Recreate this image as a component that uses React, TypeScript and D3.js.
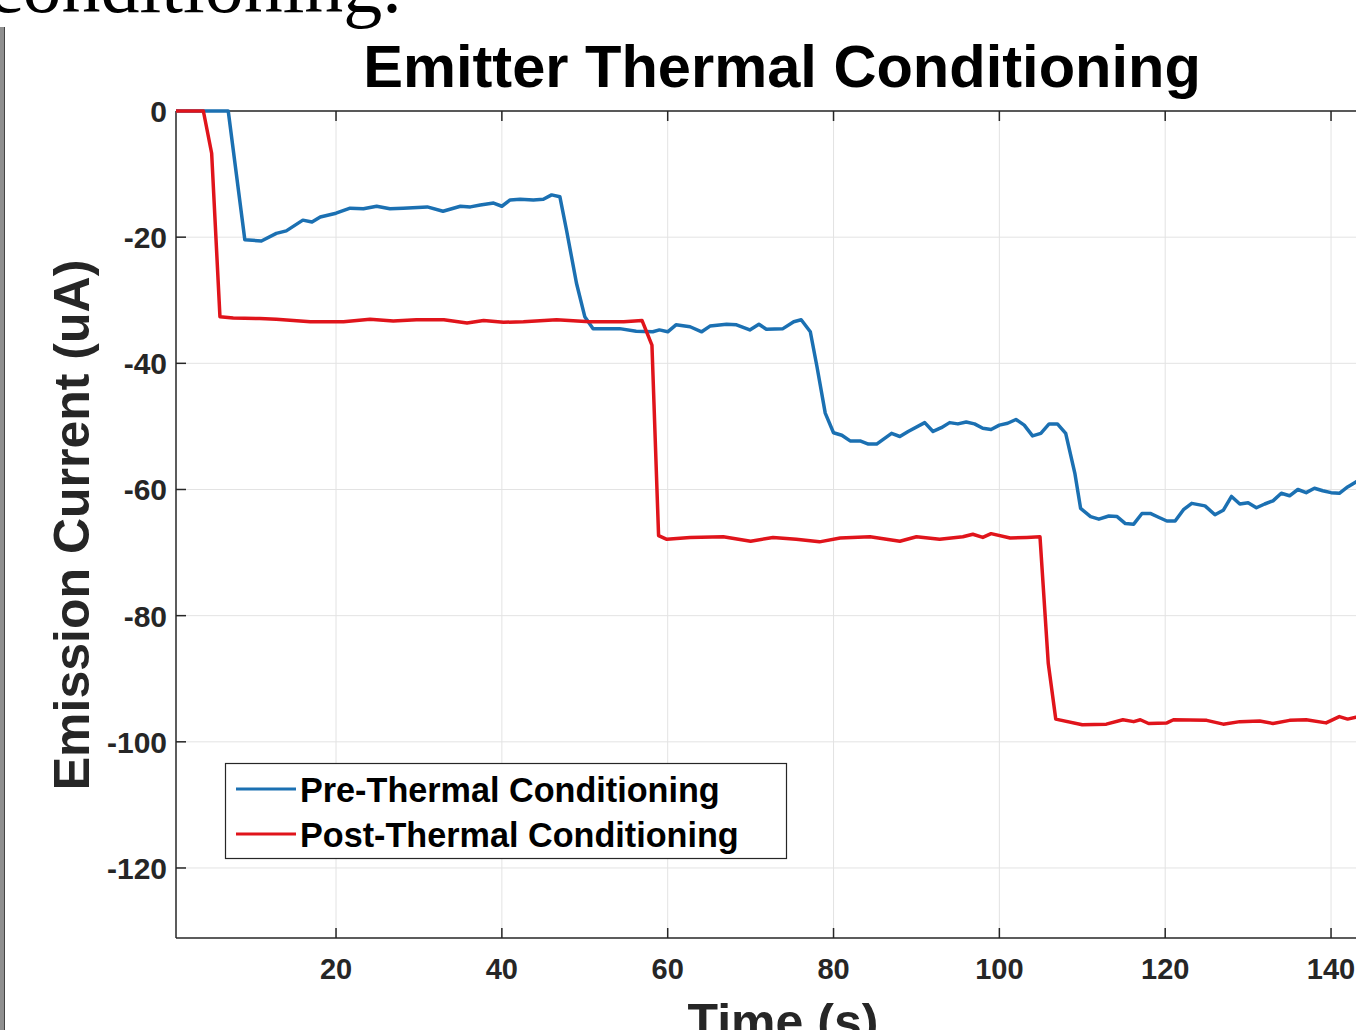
import * as d3 from "d3";

// Emitter thermal conditioning: [time (s), current (uA)]
const preThermal: [number, number][] = [
  [0.7, 0], [7, 0], [9, -20.4], [11, -20.6], [12.8, -19.4], [14, -19], [16, -17.3], [17.1, -17.6],
  [18.1, -16.8], [20, -16.2], [21.7, -15.4], [23.3, -15.5], [24.9, -15.1], [26.5, -15.5], [28.1, -15.4],
  [31, -15.2], [32.9, -15.9], [35, -15.1], [36.2, -15.2], [37.4, -14.9], [39, -14.6], [40, -15.1],
  [41, -14.1], [42.2, -14], [43.8, -14.1], [45, -14], [46, -13.3], [47, -13.6], [47.8, -18.9],
  [49, -27.3], [50, -32.6], [51, -34.5], [54.2, -34.5], [56.2, -34.9], [58.2, -35], [59, -34.7],
  [60, -35], [61, -33.9], [62.7, -34.2], [64.1, -35], [65.1, -34.1], [67.1, -33.8], [68.3, -33.9],
  [69.9, -34.7], [71, -33.8], [71.9, -34.6], [73.9, -34.5], [75.2, -33.4], [76.1, -33.1], [77.2, -35],
  [78, -40.5], [79, -47.9], [80, -51], [81, -51.4], [82, -52.3], [83.2, -52.3], [84.2, -52.8],
  [85.2, -52.8], [87, -51.1], [88, -51.6], [89, -50.8], [91, -49.4], [92, -50.8], [93, -50.2],
  [94, -49.4], [95, -49.6], [96, -49.3], [97, -49.6], [98, -50.3], [99, -50.5], [100, -49.8],
  [101, -49.5], [102, -48.9], [103, -49.8], [104, -51.5], [105, -51.1], [106, -49.6], [107, -49.6],
  [108, -51.1], [109.1, -57.4], [109.8, -63], [111, -64.3], [112, -64.7], [113.2, -64.2], [114.2, -64.3],
  [115.2, -65.4], [116.2, -65.5], [117.2, -63.8], [118.2, -63.8], [119.2, -64.4], [120.2, -65],
  [121.2, -65], [122.2, -63.2], [123.2, -62.2], [124.8, -62.6], [126, -64], [127, -63.3], [128, -61.1],
  [129, -62.3], [130, -62.1], [131, -62.9], [132, -62.3], [133, -61.8], [134, -60.6], [135, -61],
  [136, -60], [137, -60.5], [138, -59.8], [139, -60.2], [140, -60.5], [141, -60.6], [142, -59.6],
  [143, -58.8], [144, -58.3],
];

const postThermal: [number, number][] = [
  [0.7, 0], [4, 0], [5, -6.7], [6, -32.6], [7.6, -32.8], [10.8, -32.9], [12.8, -33], [16.9, -33.4],
  [20.9, -33.4], [24.1, -33], [26.9, -33.3], [29.7, -33.1], [33, -33.1], [35.8, -33.6], [37.8, -33.2],
  [40.2, -33.5], [42.6, -33.4], [46.6, -33.1], [50.6, -33.4], [54.7, -33.4], [56.9, -33.2],
  [58.1, -37.1], [58.9, -67.3], [59.9, -67.9], [62.7, -67.6], [66.7, -67.5], [70, -68.2], [72.7, -67.6],
  [75.5, -67.9], [78.3, -68.3], [80.8, -67.7], [84.4, -67.5], [88, -68.2], [90, -67.5], [92.8, -67.9],
  [95.6, -67.5], [96.8, -67.1], [98, -67.6], [99, -67], [101.3, -67.7], [103.3, -67.6], [104.9, -67.5],
  [105.9, -87.6], [106.8, -96.4], [110, -97.3], [112.9, -97.2], [114.9, -96.5], [116.2, -96.8],
  [117, -96.5], [118, -97.1], [120.2, -97], [121, -96.5], [125, -96.6], [127, -97.2], [129, -96.8],
  [131.4, -96.7], [133, -97.1], [135, -96.6], [137, -96.5], [139.4, -97], [141, -96], [142, -96.4],
  [143, -96.1], [144, -96.2],
];

const xTicks = [20, 40, 60, 80, 100, 120, 140];
const yTicks = [0, -20, -40, -60, -80, -100, -120];
const legendLabels = ["Pre-Thermal Conditioning", "Post-Thermal Conditioning"];
const seriesColors = ["#1b70b2", "#e0141b"];

const W = 1356;
const H = 1030;
const left = 176, top = 111, bottom = 938;
const font = "'Liberation Sans', Arial, sans-serif";
const ink = "#262626";

export default function App() {
  const x = d3.scaleLinear().domain([0.7, 145]).range([left, left + 144.3 * 8.2917]);
  const y = d3.scaleLinear().domain([-131.1, 0]).range([bottom, top]);

  const line = d3.line<[number, number]>()
    .x(d => x(d[0]))
    .y(d => y(d[1]));

  return (
    <svg width={W} height={H} style={{ position: "absolute", left: 0, top: 0, background: "#fff" }}>
      <rect x={0} y={0} width={W} height={H} fill="#fff" />

      {/* bit of document text cut at the top */}
      <text x={-12} y={12} fontFamily="'Liberation Serif', 'Times New Roman', serif" fontSize={78} fill="#000">
        conditioning.
      </text>
      {/* page edge on the left */}
      <rect x={0} y={27} width={4} height={H - 27} fill="#8f8f8f" />
      <line x1={4.5} x2={4.5} y1={27} y2={H} stroke="#444" />

      {/* grid */}
      <g stroke="#e3e3e3" strokeWidth={1}>
        {xTicks.map(t => (
          <line key={"gx" + t} x1={x(t)} x2={x(t)} y1={top} y2={bottom} />
        ))}
        {yTicks.map(t => (
          <line key={"gy" + t} x1={left} x2={W} y1={y(t)} y2={y(t)} />
        ))}
      </g>

      {/* axes box */}
      <g stroke={ink} strokeWidth={1.5} fill="none">
        <line x1={left} x2={W} y1={top} y2={top} />
        <line x1={left} x2={W} y1={bottom} y2={bottom} />
        <line x1={left} x2={left} y1={top} y2={bottom} />
        {xTicks.map(t => (
          <g key={"tx" + t}>
            <line x1={x(t)} x2={x(t)} y1={top} y2={top + 10} />
            <line x1={x(t)} x2={x(t)} y1={bottom} y2={bottom - 10} />
          </g>
        ))}
        {yTicks.map(t => (
          <line key={"ty" + t} x1={left} x2={left + 10} y1={y(t)} y2={y(t)} />
        ))}
      </g>

      {/* tick labels */}
      <g fontFamily={font} fontWeight="bold" fill={ink}>
        {xTicks.map(t => (
          <text key={"lx" + t} x={x(t)} y={979} fontSize={29} textAnchor="middle">{t}</text>
        ))}
        {yTicks.map(t => (
          <text key={"ly" + t} x={167} y={y(t) + 11} fontSize={30} textAnchor="end">{t}</text>
        ))}
      </g>

      {/* series */}
      {[preThermal, postThermal].map((s, i) => (
        <path key={i} d={line(s) ?? ""} fill="none" stroke={seriesColors[i]} strokeWidth={3.5} strokeLinejoin="round" />
      ))}

      {/* titles */}
      <text x={782} y={87} fontFamily={font} fontWeight="bold" fontSize={59.6} textAnchor="middle" fill="#000">
        Emitter Thermal Conditioning
      </text>
      <text transform="translate(89,525) rotate(-90)" fontFamily={font} fontWeight="bold" fontSize={50}
        textAnchor="middle" fill={ink}>
        Emission Current (uA)
      </text>
      <text x={783} y={1039} fontFamily={font} fontWeight="bold" fontSize={50} textAnchor="middle" fill={ink}>
        Time (s)
      </text>

      {/* legend */}
      <g>
        <rect x={225.5} y={763.5} width={561} height={95} fill="#fff" stroke={ink} strokeWidth={1.2} />
        {legendLabels.map((lab, i) => (
          <g key={lab}>
            <line x1={236} x2={296} y1={789 + i * 45} y2={789 + i * 45} stroke={seriesColors[i]} strokeWidth={3} />
            <text x={300} y={802 + i * 45} fontFamily={font} fontWeight="bold" fontSize={34.2} fill="#000">{lab}</text>
          </g>
        ))}
      </g>
    </svg>
  );
}
